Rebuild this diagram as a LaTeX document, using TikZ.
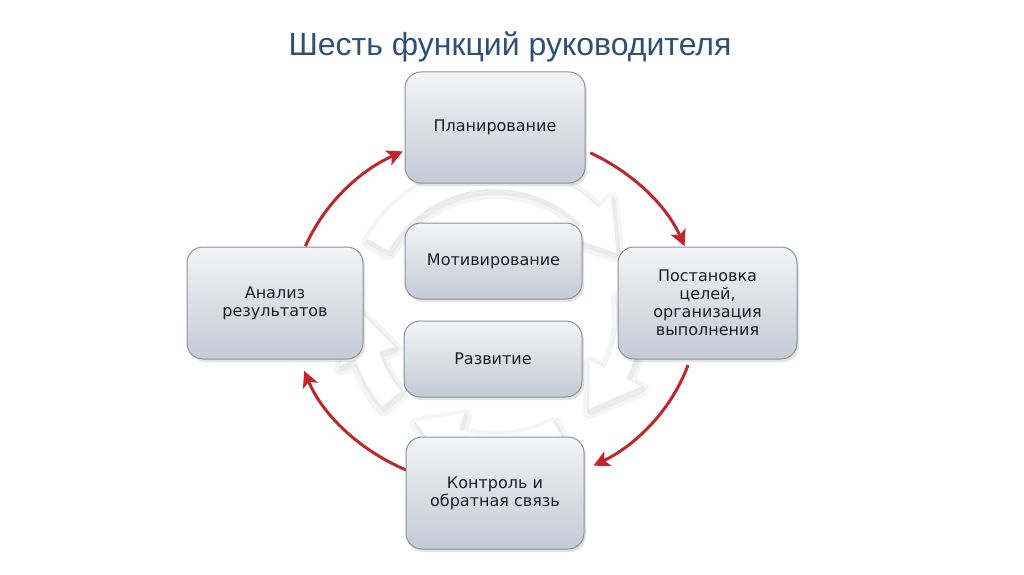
\documentclass[tikz,border=0pt]{standalone}
\usepackage{fontspec}
\setmainfont{DejaVu Sans}
\newfontfamily\titlefont{Liberation Sans}
\usetikzlibrary{arrows.meta,shadows,calc}
\definecolor{titleblue}{HTML}{2E5077}
\definecolor{redarr}{HTML}{C0272D}
\definecolor{boxtop}{HTML}{F2F4F7}
\definecolor{boxbot}{HTML}{C4CBD5}
\definecolor{boxline}{HTML}{8C9198}
\definecolor{txtc}{HTML}{1E1E1E}
\tikzset{
  fbox/.style={draw=boxline, line width=1pt, rounded corners=16pt,
    top color=boxtop, bottom color=boxbot, text=txtc, align=center,
    font=\fontsize{16}{18}\selectfont, inner sep=0pt,
    drop shadow={opacity=0.22, shadow xshift=2pt, shadow yshift=-3pt}},
  redarrow/.style={draw=redarr, line width=3pt,
    -{Stealth[length=16pt,width=16pt,inset=4pt]}},
  ringglow/.style={draw=black!4, line width=14pt, line join=round, shift={(1,-3)}},
  ringshadow/.style={fill=black!14, draw=black!8, line width=6pt, line join=round, shift={(1.5,-3)}},
  ringfill/.style={fill=white},
}
% #1 style, #2 start angle, #3 tip angle (clockwise)
\newcommand\ringarrow[3]{%
  \path[#1] (#2:147) arc[start angle=#2, end angle=#3+19, radius=147]
    -- (#3+19:164) -- (#3:135) -- (#3+19:106) -- (#3+19:123)
    arc[start angle=#3+19, end angle=#2, radius=123] -- cycle;}
\begin{document}
\begin{tikzpicture}[x=1pt,y=1pt]
\useasboundingbox[fill=white] (0,0) rectangle (1024,574);

\node[font=\titlefont\fontsize{32}{36}\selectfont, text=titleblue] (title) at (510,527) {Шесть функций руководителя};

% white circular arrows in the background
\coordinate (R) at (495,262);
\begin{scope}[shift={(R)}]
  \foreach \s/\e in {150/26, 8/-46, -62/-126, -140/-180} {\ringarrow{ringglow}{\s}{\e}}
  \foreach \s/\e in {150/26, 8/-46, -62/-126, -140/-180} {\ringarrow{ringshadow}{\s}{\e}}
  \foreach \s/\e in {150/26, 8/-46, -62/-126, -140/-180} {\ringarrow{ringfill}{\s}{\e}}
\end{scope}

% red arrows
\coordinate (E) at (495,264);
\draw[redarrow] ($(E)+(159:203 and 178)$) arc[start angle=159, end angle=117, x radius=203, y radius=178];
\draw[redarrow] ($(E)+(62:203 and 178)$) arc[start angle=62, end angle=21, x radius=203, y radius=178];
\draw[redarrow] ($(E)+(-18:203 and 178)$) arc[start angle=-18, end angle=-61, x radius=203, y radius=178];
\draw[redarrow] ($(E)+(-116:203 and 178)$) arc[start angle=-116, end angle=-160, x radius=203, y radius=178];

% boxes
\node[fbox, minimum width=180pt, minimum height=111pt] (plan) at (495,446.5) {Планирование};
\node[fbox, minimum width=176pt, minimum height=112pt] (anal) at (275,271) {Анализ\\результатов};
\node[fbox, minimum width=179pt, minimum height=112pt] (post) at (707.5,271) {Постановка\\целей,\\организация\\выполнения};
\node[fbox, minimum width=178pt, minimum height=112pt] (kontr) at (495,81) {Контроль и\\обратная связь};
\node[fbox, minimum width=177pt, minimum height=76pt] (motiv) at (493.5,313) {Мотивирование};
\node[fbox, minimum width=178pt, minimum height=76pt] (razv) at (493,215) {Развитие};
\end{tikzpicture}
\end{document}
